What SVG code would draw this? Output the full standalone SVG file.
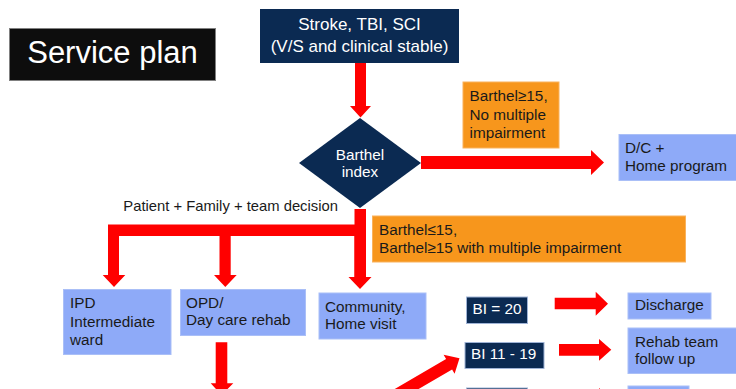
<svg xmlns="http://www.w3.org/2000/svg" width="736" height="389" viewBox="0 0 736 389">
  <style>
    text { font-family: "Liberation Sans", Arial, sans-serif; font-size: 15.3px; fill: #1a1a1a; }
    .w { fill: #ffffff; }
    .c { text-anchor: middle; }
    .navy { fill: #0b2a52; }
    .navyb { fill: #0b2a52; stroke: #9fb3d6; stroke-width: 1; }
    .blue { fill: #8eaaf8; stroke: #aabff7; stroke-width: 1; }
    .orange { fill: #f7961c; stroke: #f9b25c; stroke-width: 1; }
    .arrow { fill: #ff0000; }
  </style>
  <rect width="736" height="389" fill="#ffffff"/>

  <g id="title">
    <rect x="9.5" y="28.5" width="206" height="52" fill="#0d0d0d" stroke="#808080" stroke-width="1"/>
    <text x="112.5" y="63" class="w c" style="font-size:31px">Service plan</text>
  </g>

  <g id="connectors">
    <polygon class="arrow" points="355,63 366,63 366,106 371,106 360.5,117.5 350,106 355,106"/>
    <polygon class="arrow" points="421,156 591,156 591,150 604,162.5 591,175 591,169 421,169"/>
    <rect class="arrow" x="354.5" y="209" width="11.5" height="69"/>
    <rect class="arrow" x="108" y="224.5" width="258" height="11.5"/>
    <polygon class="arrow" points="108,236 119,236 119,275 125.3,275 114,287 102.7,275 108,275"/>
    <polygon class="arrow" points="219.5,236 230.7,236 230.7,275 236.7,275 225.3,287 214,275 219.5,275"/>
    <polygon class="arrow" points="354.5,236 366,236 366,277 371.5,277 360,289 348.5,277 354.5,277"/>
    <polygon class="arrow" points="215.7,342.3 227.3,342.3 227.3,383.3 233.3,383.3 221.5,395 210.7,383.3 215.7,383.3"/>
    <polygon class="arrow" points="554.7,297.7 595.7,297.7 595.7,291.7 608,303.7 595.7,315.7 595.7,309.3 554.7,309.3"/>
    <polygon class="arrow" points="559,344 599,344 599,339 611.3,349.8 599,360.7 599,355.7 559,355.7"/>
    <polygon class="arrow" points="559,393 599,393 599,388 611.3,399 599,410 599,405 559,405"/>
    <polygon class="arrow" points="359.7,409.4 446.1,359.1 443.6,354.8 459.5,358.3 454.6,373.8 452.1,369.5 365.7,419.8"/>
  </g>

  <g id="start">
    <rect class="navy" x="260" y="9" width="199" height="54"/>
    <text x="359.5" y="29.5" class="w c" style="font-size:17px">Stroke, TBI, SCI</text>
    <text x="359.5" y="52" class="w c" style="font-size:17px">(V/S and clinical stable)</text>
  </g>

  <g id="barthel">
    <polygon class="navy" points="360,118 421,163 360,208 299,163"/>
    <text x="360" y="160" class="w c">Barthel</text>
    <text x="360" y="177" class="w c">index</text>
  </g>

  <g id="cond-high">
    <rect class="orange" x="463" y="82" width="96" height="66"/>
    <text x="469.5" y="100.5">Barthel≥15,</text>
    <text x="469.5" y="119.5">No multiple</text>
    <text x="469.5" y="137.5">impairment</text>
  </g>

  <g id="dc-home">
    <rect class="blue" x="619" y="134.5" width="122" height="46"/>
    <text x="625" y="153">D/C +</text>
    <text x="625" y="171">Home program</text>
  </g>

  <g id="decision-label">
    <text x="123.3" y="210.5" style="font-size:14.8px">Patient + Family + team decision</text>
  </g>

  <g id="cond-low">
    <rect class="orange" x="372.5" y="216" width="313" height="46"/>
    <text x="379" y="235">Barthel≤15,</text>
    <text x="379" y="252.5">Barthel≥15 with multiple impairment</text>
  </g>

  <g id="ipd">
    <rect class="blue" x="63.5" y="289.5" width="107.5" height="65"/>
    <text x="70" y="308">IPD</text>
    <text x="70" y="327">Intermediate</text>
    <text x="70" y="345">ward</text>
  </g>

  <g id="opd">
    <rect class="blue" x="180.5" y="289.5" width="125" height="46"/>
    <text x="186" y="308">OPD/</text>
    <text x="186" y="325">Day care rehab</text>
  </g>

  <g id="community">
    <rect class="blue" x="319" y="293" width="107" height="46"/>
    <text x="325" y="311.5">Community,</text>
    <text x="325" y="328.5">Home visit</text>
  </g>

  <g id="bi20">
    <rect class="navyb" x="466.5" y="297" width="61" height="26.5"/>
    <text x="472.5" y="313.5" class="w">BI = 20</text>
  </g>

  <g id="discharge">
    <rect class="blue" x="628" y="293" width="83" height="26"/>
    <text x="635" y="309.5">Discharge</text>
  </g>

  <g id="bi11-19">
    <rect class="navyb" x="465" y="342.5" width="79" height="26"/>
    <text x="471" y="358.5" class="w">BI 11 - 19</text>
  </g>

  <g id="rehab">
    <rect class="blue" x="628" y="328" width="112" height="45.5"/>
    <text x="635" y="347">Rehab team</text>
    <text x="635" y="363.5">follow up</text>
  </g>

  <g id="bi-lower">
    <rect class="navyb" x="466.5" y="388" width="61" height="26"/>
  </g>

  <g id="lower-right">
    <rect class="blue" x="628" y="386" width="61" height="26"/>
  </g>
</svg>
